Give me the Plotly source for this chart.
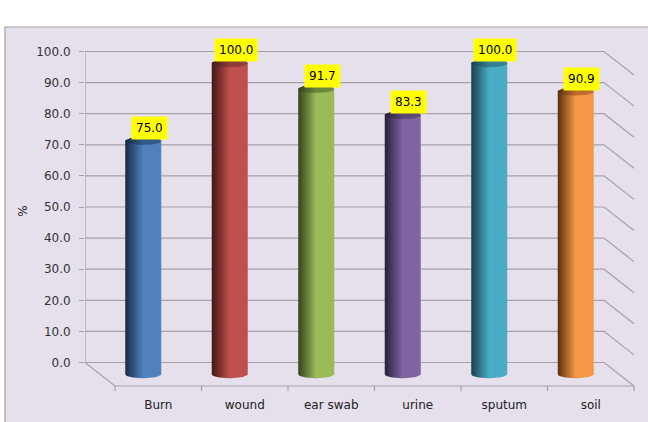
import numpy as np
import plotly.graph_objects as go

categories = ["Burn", "wound", "ear swab", "urine", "sputum", "soil"]
values = [75.0, 100.0, 91.7, 83.3, 100.0, 90.9]
tick_values = [0, 10, 20, 30, 40, 50, 60, 70, 80, 90, 100]
tick_labels = [f"{v:.1f}" for v in tick_values]

dark_colors = ["#182A45", "#431716", "#33431A", "#281E3C", "#18404C", "#56300F"]
main_colors = ["#4F81BD", "#C0504D", "#9BBB59", "#8064A2", "#4BACC6", "#F79646"]
cap_colors = ["#325B8A", "#8E3D3A", "#6E873E", "#5B477A", "#358095", "#BB6E2D"]

# geometry (pixels -> data units)
W, H = 648, 422
ml, mr, mt, mb = 85, 8, 30, 30
px_x = 86.5          # pixels per category
px_y = 3.11          # pixels per percent
xr0 = -0.5
xr1 = xr0 + (W - ml - mr) / px_x
y0_pix = 362.5 - mt
yr1 = y0_pix / px_y
yr0 = -((H - mb) - 362.5) / px_y

dxf = 30 / px_x      # full depth offset
dyf = 23.5 / px_y
dxm, dym = dxf / 2, dyf / 2
a = 18 / px_x        # cylinder radius
b = 4 / px_y         # ellipse half-height
n = len(categories)
xR = xr0 + n

fig = go.Figure()

for i, (v, dc, mc, cc) in enumerate(zip(values, dark_colors, main_colors, cap_colors)):
    t_top = np.linspace(0, np.pi, 30)
    t_bot = np.linspace(np.pi, 2 * np.pi, 30)
    xs = list(i + a * np.cos(t_top)) + list(i + a * np.cos(t_bot))
    ys = list(v + b * np.sin(t_top)) + list(0 + b * np.sin(t_bot))
    xs.append(xs[0]); ys.append(ys[0])
    fig.add_trace(go.Scatter(
        x=xs, y=ys, xaxis="x2", yaxis="y2", mode="lines",
        line=dict(width=0), fill="toself",
        fillgradient=dict(type="horizontal",
                          colorscale=[[0, dc], [0.5, mc], [0.85, mc], [1, mc]]),
        hoverinfo="skip", showlegend=False))
    t = np.linspace(0, 2 * np.pi, 60)
    fig.add_trace(go.Scatter(
        x=i + a * np.cos(t), y=v + b * np.sin(t), xaxis="x2", yaxis="y2",
        mode="lines", line=dict(width=0), fill="toself",
        fillgradient=dict(type="horizontal",
                          colorscale=[[0, dc], [0.5, cc], [1, cc]]),
        hoverinfo="skip", showlegend=False))
    fig.add_annotation(x=i, y=v, xref="x2", yref="y2", text=f"{v:.1f}",
                       showarrow=False, yanchor="bottom", xanchor="center",
                       xshift=6, yshift=1, bgcolor="#FFFF00", borderpad=4,
                       font=dict(family="DejaVu Sans", size=12, color="#000000"))

shapes = []
shapes.append(dict(type="rect", xref="paper", yref="paper",
                   x0=(5 - ml) / (W - ml - mr), x1=1.05,
                   y0=-0.2, y1=(H - mb - 27) / (H - mt - mb),
                   fillcolor="#E5E0EC", line=dict(color="#A0A0A0", width=1.2),
                   layer="below"))
grid = dict(color="#A3A3A3", width=1.2)
for v in tick_values:
    shapes.append(dict(type="path", xref="x", yref="y",
                       path=f"M {xr0},{v} L {xR},{v} L {xR + dxf},{v - dyf}",
                       line=grid, layer="below"))
shapes.append(dict(type="line", xref="x", yref="y", x0=xr0, x1=xr0, y0=0, y1=100,
                   line=grid, layer="below"))
shapes.append(dict(type="path", xref="x", yref="y",
                   path=f"M {xr0},0 L {xr0 + dxf},{-dyf} L {xR + dxf},{-dyf}",
                   line=grid, layer="below"))
for k in range(n + 1):
    xx = xr0 + k + dxf
    shapes.append(dict(type="line", xref="x", yref="y", x0=xx, x1=xx,
                       y0=-dyf, y1=-dyf - 5 / px_y, line=grid, layer="below"))

fig.update_layout(
    width=W, height=H, margin=dict(l=ml, r=mr, t=mt, b=mb),
    paper_bgcolor="#FFFFFF", plot_bgcolor="rgba(0,0,0,0)",
    shapes=shapes, showlegend=False,
    font=dict(family="DejaVu Sans", size=12, color="#333333"),
    xaxis=dict(range=[xr0, xr1], showgrid=False, zeroline=False, showline=False,
               tickvals=[i + dxf for i in range(n)], ticktext=categories,
               ticks="", tickfont=dict(size=12, color="#222222"),
               ticklabelstandoff=4),
    yaxis=dict(range=[yr0, yr1], showgrid=False, zeroline=False, showline=False,
               tickvals=tick_values, ticktext=tick_labels, ticks="outside",
               ticklen=5, tickcolor="#A3A3A3", tickwidth=1.2,
               tickfont=dict(size=12, color="#333333"), ticklabelstandoff=6,
               title=dict(text="%", standoff=6, font=dict(size=12, color="#222222"))),
    xaxis2=dict(range=[xr0 - dxm, xr1 - dxm], overlaying="x", visible=False),
    yaxis2=dict(range=[yr0 + dym, yr1 + dym], overlaying="y", visible=False),
)

fig.write_html("out.html")
